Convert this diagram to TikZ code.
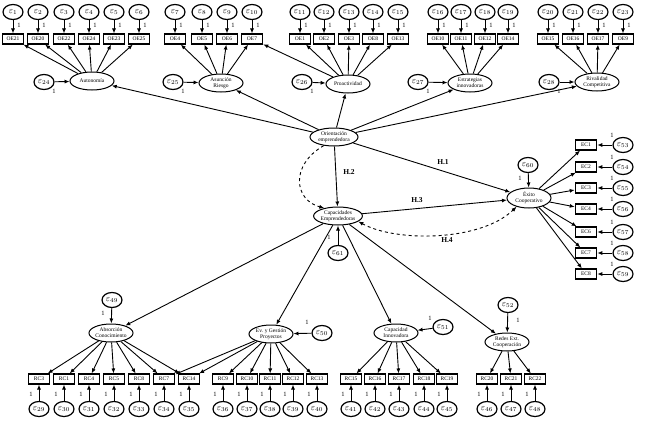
\documentclass[tikz,border=0pt]{standalone}
\usepackage{fontspec}
\setmainfont{Liberation Serif}
\usetikzlibrary{arrows.meta,shapes.geometric}
\begin{document}
\begin{tikzpicture}[x=1pt,y=-1pt,
 lat/.style={ellipse,draw,line width=1pt,minimum width=44pt,minimum height=18pt,inner sep=0pt,align=center,font=\fontsize{5.5}{5.8}\selectfont},
 obs/.style={rectangle,draw,line width=1.6pt,minimum width=21pt,minimum height=9.5pt,inner sep=0pt,font=\fontsize{5.5}{5.5}\selectfont},
 err/.style={ellipse,draw,line width=1.2pt,minimum width=20pt,minimum height=15pt,inner sep=0pt,font=\fontsize{9}{9}\selectfont},
 arr/.style={-{Latex[length=5pt,width=4pt]},line width=0.9pt},
 dasharr/.style={arr,dash pattern=on 3pt off 3pt},
 one/.style={font=\fontsize{6.5}{6.5}\selectfont,inner sep=0pt},
 hlab/.style={font=\fontsize{7.5}{7.5}\selectfont\bfseries,inner sep=0pt}]
\useasboundingbox (0,0) rectangle (650,429);
% top indicators
\foreach \i/\x/\bl in {1/13/OE21,2/38/OE20,3/64/OE22,4/89/OE24,5/114/OE23,6/139/OE25,7/175/OE4,8/202/OE5,9/227/OE6,10/252/OE7,11/300/OE1,12/324/OE2,13/349/OE3,14/373/OE8,15/398/OE13,16/438/OE10,17/461/OE11,18/485/OE12,19/508/OE14,20/548/OE15,21/573/OE16,22/598/OE17,23/623/OE9}{
 \node[err] (e\i) at (\x,12) {$\varepsilon_{\i}$};
 \node[obs] (o\i) at (\x,39) {\bl};
 \draw[arr] (e\i) -- (o\i);
 \node[one] at (\x+6,25) {1};
}
% first-order factors of orientation
\node[lat] (AU) at (92,81) {Autonomía};
\node[lat] (AR) at (221,83) {Asunción\\Riesgo};
\node[lat] (PR) at (348,84) {Proactividad};
\node[lat] (EI) at (470,83) {Estrategias\\innovadoras};
\node[lat] (RV) at (597,82) {Rivalidad\\Competitiva};
\foreach \n/\x/\l in {AU/44/24,AR/173/25,PR/302/26,EI/418/27,RV/549/28}{
 \node[err] (d\l) at (\x,82) {$\varepsilon_{\l}$};
 \draw[arr] (d\l) -- (\n);
 \node[one] at (\x+10,91) {1};
}
\foreach \i in {1,...,6} \draw[arr] (AU) -- (o\i);
\foreach \i in {7,...,10} \draw[arr] (AR) -- (o\i);
\draw[arr] (PR) -- (o10);
\foreach \i in {11,...,15} \draw[arr] (PR) -- (o\i);
\foreach \i in {16,...,19} \draw[arr] (EI) -- (o\i);
\foreach \i in {20,...,23} \draw[arr] (RV) -- (o\i);
% central constructs
\node[lat,minimum width=48pt] (OR) at (334,137) {Orientación\\emprendedora};
\foreach \n in {AU,AR,PR,EI,RV} \draw[arr] (OR) -- (\n);
\node[lat] (CE) at (338,216) {Capacidades\\Emprendedoras};
\node[lat,minimum height=20pt] (EX) at (529,198) {Éxito\\Cooperativo};
\draw[arr] (OR) -- (CE);
\draw[arr] (OR) -- (EX);
\draw[arr] (CE) -- (EX);
\draw[dasharr] (OR.220) .. controls (290,165) and (294,200) .. (CE.150);
\draw[dasharr,{Latex[length=5pt,width=4pt]}-{Latex[length=5pt,width=4pt]}] (CE.345) .. controls (395,242) and (480,242) .. (EX.215);
\node[hlab] at (443,162) {H.1};
\node[hlab] at (349,172) {H.2};
\node[hlab] at (417,200) {H.3};
\node[hlab] at (447,240) {H.4};
% EC indicators
\foreach \i/\y/\bl/\el in {1/145/EC1/53,2/167/EC2/54,3/188/EC3/55,4/209/EC4/56,5/232/EC6/57,6/253/EC7/58,7/274/EC8/59}{
 \node[obs] (c\i) at (586,\y) {\bl};
 \node[err] (g\i) at (623,\y) {$\varepsilon_{\el}$};
 \draw[arr] (g\i) -- (c\i);
 \draw[arr] (EX) -- (c\i);
 \node[one] at (612,\y-10) {1};
}
\node[err] (d60) at (528,165) {$\varepsilon_{60}$};
\draw[arr] (d60) -- (EX);
\node[one] at (520,178) {1};
\node[err] (d61) at (338,253) {$\varepsilon_{61}$};
\draw[arr] (d61) -- (CE);
\node[one] at (329,237) {1};
% bottom factors
\node[lat] (AC) at (111,333) {Absorción\\Conocimiento};
\node[lat] (EG) at (271,334) {Ev. y Gestión\\Proyectos};
\node[lat] (CI) at (396,333) {Capacidad\\Innovadora};
\node[lat] (RE) at (507,342) {Redes Ext.\\Cooperación};
\foreach \n in {AC,EG,CI,RE} \draw[arr] (CE) -- (\n);
\node[err] (d49) at (112,300) {$\varepsilon_{49}$};
\draw[arr] (d49) -- (AC);
\node[one] at (103,313) {1};
\node[err] (d50) at (322,333) {$\varepsilon_{50}$};
\draw[arr] (d50) -- (EG);
\node[one] at (307,322) {1};
\node[err] (d51) at (443,327) {$\varepsilon_{51}$};
\draw[arr] (d51) -- (CI);
\node[one] at (430,318) {1};
\node[err] (d52) at (508,305) {$\varepsilon_{52}$};
\draw[arr] (d52) -- (RE);
\node[one] at (518,320) {1};
\foreach \i/\x/\bl/\el in {1/39/RC3/29,2/64/RC1/30,3/89/RC4/31,4/114/RC5/32,5/139/RC8/33,6/164/RC7/34,7/189/RC14/35,8/223/RC9/36,9/247/RC10/37,10/270/RC11/38,11/293/RC12/39,12/317/RC13/40,13/351/RC15/41,14/375/RC16/42,15/399/RC17/43,16/424/RC18/44,17/447/RC19/45,18/487/RC20/46,19/511/RC21/47,20/535/RC22/48}{
 \node[obs] (b\i) at (\x,379) {\bl};
 \node[err] (f\i) at (\x,409) {$\varepsilon_{\el}$};
 \draw[arr] (f\i) -- (b\i);
 \node[one] at (\x-8,394) {1};
}
\foreach \i in {1,...,7} \draw[arr] (AC) -- (b\i);
\foreach \i in {6,...,12} \draw[arr] (EG) -- (b\i);
\foreach \i in {13,...,17} \draw[arr] (CI) -- (b\i);
\foreach \i in {18,...,20} \draw[arr] (RE) -- (b\i);
\end{tikzpicture}
\end{document}
